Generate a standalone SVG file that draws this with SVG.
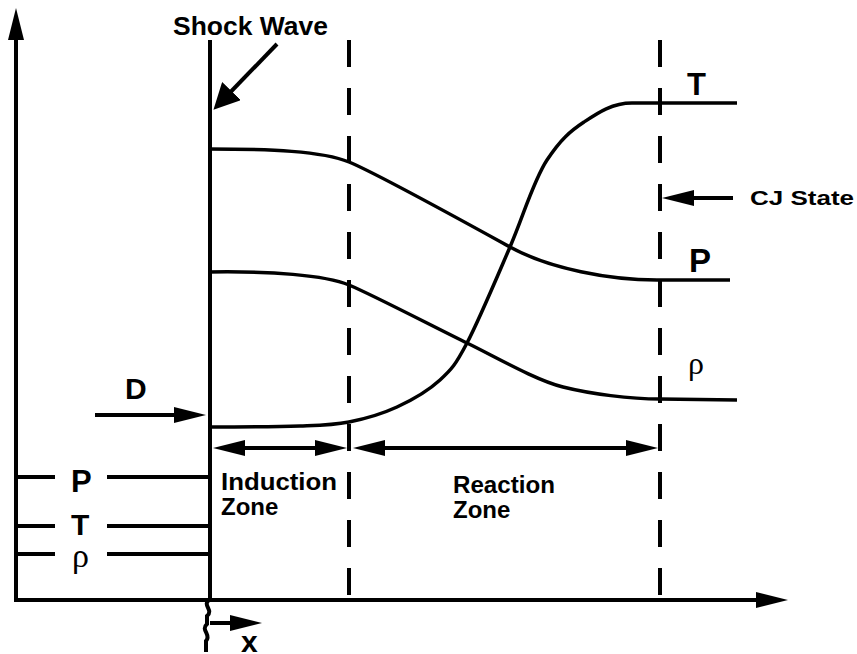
<svg xmlns="http://www.w3.org/2000/svg" width="857" height="654" viewBox="0 0 857 654">
<style>
.ln{stroke:#000;fill:none;stroke-width:4}
.cv{stroke:#000;fill:none;stroke-width:3.5}
.dash{stroke:#000;fill:none;stroke-width:4;stroke-dasharray:27 21}
.t{font-family:"Liberation Sans",Arial,Helvetica,sans-serif;font-weight:bold;fill:#000}
.g{font-family:"Liberation Serif","Times New Roman",serif;fill:#000}
</style>
<defs>
<marker id="ah" markerUnits="userSpaceOnUse" markerWidth="32" markerHeight="16" refX="24" refY="8" orient="auto-start-reverse">
<path d="M0,0 L32,8 L0,16 z" fill="#000"/>
</marker>
<marker id="ahs" markerUnits="userSpaceOnUse" markerWidth="26" markerHeight="26" refX="18" refY="13" orient="auto">
<path d="M0,0 L26,13 L0,26 z" fill="#000"/>
</marker>
</defs>
<rect width="857" height="654" fill="#fff"/>
<g id="axes">
<line class="ln" x1="16" y1="600" x2="16" y2="16" marker-end="url(#ah)"/>
<line class="ln" x1="14" y1="600" x2="780" y2="600" marker-end="url(#ah)"/>
<path class="ln" stroke-width="3" d="M209,600 C202,605 214,610 207,616 L207,624 C200,630 212,635 206,641 L206,652"/>
<line class="ln" stroke-width="3.5" x1="210" y1="623" x2="254" y2="623" marker-end="url(#ah)"/>
<text class="t" x="241" y="652" font-size="30">x</text>
</g>
<g id="shock">
<line class="ln" stroke-width="5" x1="210" y1="40" x2="210" y2="602"/>
<text class="t" x="173" y="35" font-size="25" textLength="155" lengthAdjust="spacingAndGlyphs">Shock Wave</text>
<line class="ln" stroke-width="5" x1="277" y1="44" x2="219" y2="104" marker-end="url(#ahs)"/>
</g>
<g id="zones">
<line class="dash" x1="349" y1="40" x2="349" y2="600"/>
<line class="dash" x1="660" y1="40" x2="660" y2="600"/>
</g>
<g id="curves">
<path id="T-curve" class="cv" d="M209,427 C224,427 276.7,426.8 300,426 C323.3,425.2 332.8,425.2 349,422 C365.2,418.8 381.8,414 397,407 C412.2,400 428.3,390.7 440,380 C451.7,369.3 455.3,365.2 467,343 C478.7,320.8 496.7,277.8 510,247 C523.3,216.2 533.3,180.8 547,160 C560.7,139.2 570.2,131.2 584,122 C597.8,112.8 612,103 632,103 L737,103"/>
<path id="P-curve" class="cv" d="M209,149 C270,149 322,151 349,162 S470,225 510,247 S610,280 657,280 L730,280"/>
<path id="rho-curve" class="cv" d="M209,272 C270,271 325,275 349,285 S440,330 467,343 C494,356 535,380 563,387 S630,399 660,399 L737,400"/>
</g>
<g id="labels-right">
<text class="t" x="687" y="95" font-size="31">T</text>
<text class="t" x="689" y="272" font-size="33">P</text>
<text class="g" x="688" y="374" font-size="32">ρ</text>
<text class="t" x="750" y="205" font-size="21" textLength="104" lengthAdjust="spacingAndGlyphs">CJ State</text>
<line class="ln" x1="733" y1="198" x2="670" y2="198" marker-end="url(#ah)"/>
</g>
<g id="detonation">
<text class="t" x="125" y="399" font-size="30">D</text>
<line class="ln" x1="95" y1="415" x2="198" y2="415" marker-end="url(#ah)"/>
</g>
<g id="dimensions">
<line class="ln" x1="221" y1="448" x2="339" y2="448" marker-start="url(#ah)" marker-end="url(#ah)"/>
<line class="ln" x1="361" y1="448" x2="650" y2="448" marker-start="url(#ah)" marker-end="url(#ah)"/>
<text class="t" x="221" y="490" font-size="24" textLength="116" lengthAdjust="spacingAndGlyphs">Induction</text>
<text class="t" x="221" y="515" font-size="24">Zone</text>
<text class="t" x="453" y="493" font-size="24" textLength="102" lengthAdjust="spacingAndGlyphs">Reaction</text>
<text class="t" x="453" y="518" font-size="24">Zone</text>
</g>
<g id="initial-state">
<line class="ln" x1="16" y1="477" x2="55" y2="477"/>
<line class="ln" x1="107" y1="477" x2="209" y2="477"/>
<text class="t" x="71" y="492" font-size="31">P</text>
<line class="ln" x1="16" y1="526" x2="55" y2="526"/>
<line class="ln" x1="107" y1="526" x2="209" y2="526"/>
<text class="t" x="71" y="535" font-size="30">T</text>
<line class="ln" x1="16" y1="554" x2="55" y2="554"/>
<line class="ln" x1="107" y1="554" x2="209" y2="554"/>
<text class="g" x="72" y="567" font-size="34">ρ</text>
</g>
</svg>
